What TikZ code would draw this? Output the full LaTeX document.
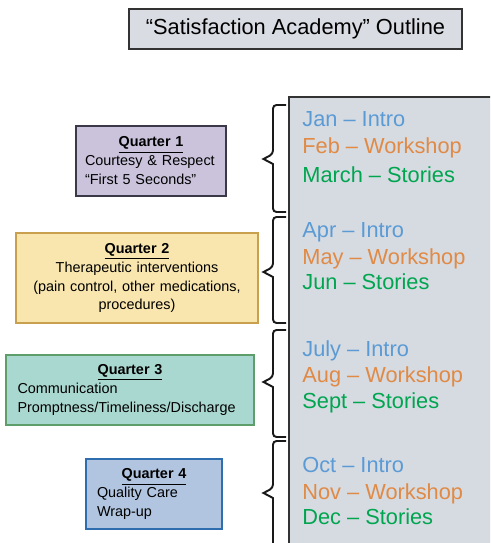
\documentclass[tikz,border=0pt]{standalone}
\usepackage{fontspec}
\setmainfont{Liberation Sans}

\definecolor{introblue}{HTML}{5B9BD5}
\definecolor{workorange}{HTML}{E08A45}
\definecolor{storygreen}{HTML}{00A550}
\definecolor{panelgray}{HTML}{D6DAE1}
\definecolor{titlegray}{HTML}{D9DCE3}
\definecolor{qonefill}{HTML}{CBC3DC}
\definecolor{qonedraw}{HTML}{3B3848}
\definecolor{qtwofill}{HTML}{F8E6AE}
\definecolor{qtwodraw}{HTML}{C9A04E}
\definecolor{qthreefill}{HTML}{A9D8D0}
\definecolor{qthreedraw}{HTML}{5E9E6A}
\definecolor{qfourfill}{HTML}{B1C5E0}
\definecolor{qfourdraw}{HTML}{2E6DAE}

\newcommand{\qhead}[1]{\makebox[\linewidth]{\underline{\textbf{#1}}}}

\tikzset{
  quarter/.style = {draw, line width=0.9pt, inner ysep=0pt, minimum height=1.4cm,
    align=left, font=\fontsize{8.2}{10.8}\selectfont},
  month/.style = {anchor=base west, inner sep=0pt, font=\fontsize{12.4}{15}\selectfont},
  bracket/.style = {draw=black!90, line width=1.1pt, line join=miter}
}

\begin{document}
\begin{tikzpicture}
  \clip (0,0) rectangle (9.8,10.86);

  % title
  \node [draw=black!80, fill=titlegray, line width=0.9pt, minimum width=6.66cm, minimum height=0.8cm,
    font=\fontsize{12.4}{15}\selectfont] (title) at (5.91,10.28) {“Satisfaction Academy” Outline};

  % month panel
  \draw [fill=panelgray, draw=black!80, line width=0.9pt] (5.78,8.92) rectangle (10.2,-0.3);

  % quarters
  \node [quarter, draw=qonedraw, fill=qonefill, text width=2.64cm, inner xsep=0.18cm] (q1) at (3.02,7.64)
    {\qhead{Quarter 1}\\Courtesy \& Respect\\“First 5 Seconds”};
  \node [quarter, draw=qtwodraw, fill=qtwofill, text width=4.5cm, inner xsep=0.17cm, align=center,
    minimum height=1.8cm] (q2) at (2.74,5.30)
    {\underline{\textbf{Quarter 2}}\\Therapeutic interventions\\(pain control, other medications,\\procedures)};
  \node [quarter, draw=qthreedraw, fill=qthreefill, text width=4.5cm, inner xsep=0.23cm] (q3) at (2.60,3.06)
    {\qhead{Quarter 3}\\Communication\\Promptness/Timeliness/Discharge};
  \node [quarter, draw=qfourdraw, fill=qfourfill, text width=2.28cm, inner xsep=0.22cm] (q4) at (3.08,0.98)
    {\qhead{Quarter 4}\\Quality Care\\Wrap-up};

  % braces
  \foreach \bot/\tip/\top in {6.62/7.68/8.76, 4.40/5.42/6.52, 2.12/3.22/4.26, -0.10/1.00/2.04}
    \draw [bracket] (5.72,\top) [rounded corners=0.07cm] -- (5.46,\top) -- (5.46,{\tip+0.1})
      [sharp corners] -- (5.27,\tip) -- (5.46,{\tip-0.1})
      [rounded corners=0.07cm] -- (5.46,\bot) -- (5.72,\bot);

  % months
  \foreach \q/\ya/\yb/\yc/\ma/\mb/\mc in {1/8.32/7.78/7.20/Jan/Feb/March,
                                         2/6.10/5.56/5.06/Apr/May/Jun,
                                         3/3.72/3.20/2.68/July/Aug/Sept,
                                         4/1.40/0.86/0.36/Oct/Nov/Dec}{
    \node [month, text=introblue] (intro\q) at (6.04,\ya) {\ma~--~Intro};
    \node [month, text=workorange] (work\q) at (6.04,\yb) {\mb~--~Workshop};
    \node [month, text=storygreen] (story\q) at (6.04,\yc) {\mc~--~Stories};
  }
\end{tikzpicture}
\end{document}
